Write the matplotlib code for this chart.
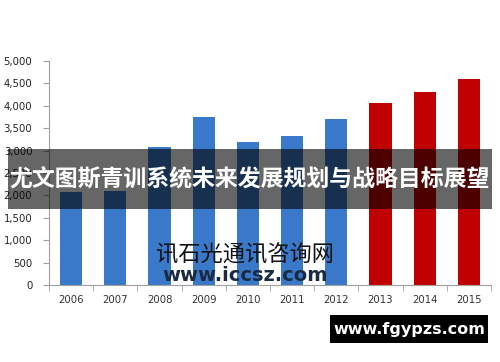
import matplotlib.pyplot as plt
import matplotlib.patches as patches
from matplotlib.ticker import FuncFormatter, FixedLocator

# Daten
years = ['2006', '2007', '2008', '2009', '2010', '2011', '2012', '2013', '2014', '2015']
values = [2080, 2100, 3070, 3750, 3200, 3330, 3700, 4060, 4310, 4600]
colors = ['#3a78c9'] * 7 + ['#c00000'] * 3

plt.rcParams['font.family'] = ['DejaVu Sans']

fig = plt.figure(figsize=(5, 3.62), dpi=100)
ax = fig.add_axes([0.098, 0.2127, 0.884, 0.6188])

x = list(range(len(years)))
ax.bar(x, values, width=0.5, color=colors, zorder=2)

ax.set_xlim(-0.5, len(years) - 0.5)
ax.set_ylim(0, 5000)
ax.set_yticks(range(0, 5001, 500))
ax.yaxis.set_major_formatter(FuncFormatter(lambda v, p: f'{int(v):,}'))
ax.set_xticks(x)
ax.set_xticklabels(years)
ax.xaxis.set_minor_locator(FixedLocator([i + 0.5 for i in range(-1, len(years))]))

# Achsen im Excel-Stil
for s in ['top', 'right']:
    ax.spines[s].set_visible(False)
for s in ['left', 'bottom']:
    ax.spines[s].set_color('#a0a0a0')
    ax.spines[s].set_linewidth(0.8)
ax.tick_params(axis='y', direction='out', length=4, color='#a0a0a0', labelsize=7.3, labelcolor='#222222', pad=8)
ax.tick_params(axis='x', which='major', length=0, labelsize=7.3, labelcolor='#333333', pad=7)
ax.tick_params(axis='x', which='minor', direction='out', length=4, color='#a0a0a0')

# Wasserzeichen
fig.text(0.49, 0.296, '讯石光通讯咨询网', family=['Noto Sans CJK SC', 'DejaVu Sans'],
         fontsize=16, color='#111111', ha='center', va='center')
fig.text(0.49, 0.238, 'www.iccsz.com', fontsize=14, fontweight='bold',
         color='#1a2a40', ha='center', va='center')

# Banner mit Titel
fig.add_artist(patches.Rectangle((0.016, 0.4227), 0.968, 0.1657, transform=fig.transFigure,
                                 facecolor='black', alpha=0.6, edgecolor='none'))
fig.text(0.5, 0.503, '尤文图斯青训系统未来发展规划与战略目标展望',
         family=['Noto Sans CJK SC', 'DejaVu Sans'], fontsize=16.5, fontweight='bold',
         color='white', ha='center', va='center')

# Logo unten rechts
fig.add_artist(patches.Rectangle((0.66, 0.0525), 0.316, 0.0773, transform=fig.transFigure,
                                 facecolor='black', edgecolor='none'))
fig.text(0.818, 0.091, 'www.fgypzs.com', fontsize=11.5, fontweight='bold',
         color='white', ha='center', va='center')

fig.savefig('out.png', dpi=100)
